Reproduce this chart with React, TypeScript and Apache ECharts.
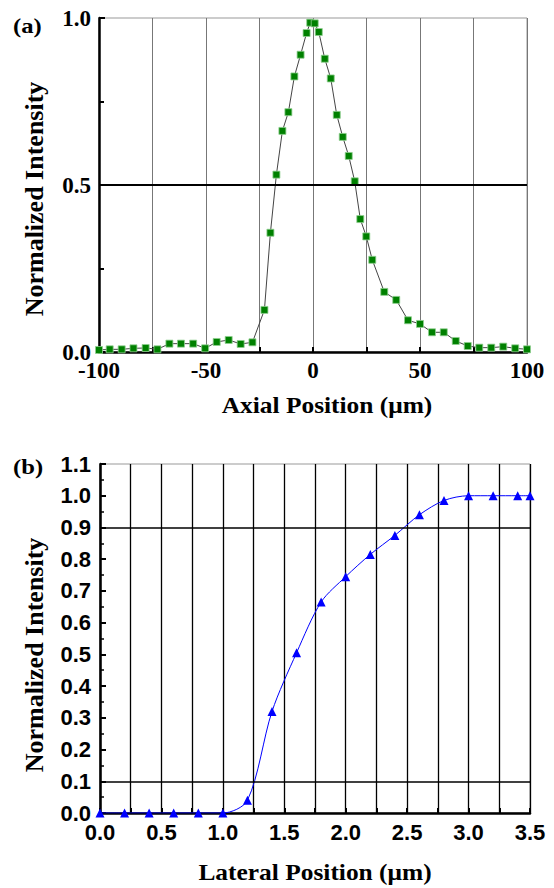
import React, { useEffect, useRef } from "react";
import * as echarts from "echarts";

const axialX = [-100, -95, -89.4, -83.9, -78.2, -72.7, -67.1, -61.7, -56, -50.4, -45, -39.4, -33.8, -28.3, -22.7, -19.9, -17.1, -14.3, -11.5, -8.7, -5.8, -3, -1.3, 0.8, 2.7, 5.5, 8.3, 11.1, 13.9, 16.7, 19.5, 22.1, 24.9, 27.7, 33.3, 38.9, 44.4, 50, 55.6, 61.1, 66.7, 72.3, 77.7, 83.3, 88.9, 94.5, 100];
const axialIntensity = [0.006, 0.008, 0.008, 0.011, 0.012, 0.008, 0.025, 0.025, 0.025, 0.011, 0.03, 0.036, 0.024, 0.029, 0.126, 0.357, 0.531, 0.662, 0.718, 0.825, 0.89, 0.955, 0.986, 0.984, 0.958, 0.878, 0.819, 0.71, 0.644, 0.587, 0.511, 0.398, 0.346, 0.276, 0.18, 0.156, 0.095, 0.084, 0.059, 0.059, 0.033, 0.018, 0.013, 0.013, 0.016, 0.011, 0.008];

const lateralX = [0, 0.2, 0.4, 0.6, 0.8, 1.0, 1.2, 1.4, 1.6, 1.8, 2.0, 2.2, 2.4, 2.6, 2.8, 3.0, 3.2, 3.4, 3.5];
const lateralIntensity = [0, 0, 0, 0, 0, 0, 0.04, 0.32, 0.505, 0.665, 0.745, 0.815, 0.875, 0.94, 0.985, 1.0, 1.0, 1.0, 1.0];

const axialRefLines = [0.5];
const lateralRefLines = [0.1, 0.9];

const SERIF = "'Liberation Serif', 'Times New Roman', serif";
const SANS = "'Liberation Sans', Arial, sans-serif";

export default function App() {
  const ref = useRef<HTMLDivElement>(null);
  useEffect(() => {
    if (!ref.current) return;
    const chart = echarts.init(ref.current, undefined, { renderer: "svg" });
    const axisLineStyle = { show: true, onZero: false, lineStyle: { color: "#000", width: 2.5 } };
    chart.setOption({
      animation: false,
      backgroundColor: "#fff",
      grid: [
        { left: 99, top: 18, width: 428, height: 334, show: true, borderColor: "#999", borderWidth: 1 },
        { left: 100, top: 464, width: 430, height: 349, show: true, borderColor: "#999", borderWidth: 1 },
      ],
      xAxis: [
        {
          gridIndex: 0, type: "value", min: -100, max: 100, interval: 25,
          axisLine: axisLineStyle,
          axisTick: { show: true, inside: true, length: 5, lineStyle: { color: "#000", width: 2 } },
          axisLabel: {
            margin: 10, lineHeight: 16, fontFamily: SERIF, fontWeight: "bold", fontSize: 23, color: "#000",
            formatter: (v: number) => (v % 50 === 0 ? String(v) : ""),
          },
          splitLine: { show: true, lineStyle: { color: "#777", width: 1 } },
        },
        {
          gridIndex: 1, type: "value", min: 0, max: 3.5, interval: 0.25,
          axisLine: axisLineStyle,
          axisTick: { show: true, inside: true, length: 5, lineStyle: { color: "#000", width: 2 } },
          axisLabel: {
            margin: 11, lineHeight: 16, fontFamily: SANS, fontWeight: "bold", fontSize: 22, color: "#000",
            formatter: (v: number) => (Math.abs(v * 2 - Math.round(v * 2)) < 1e-6 ? v.toFixed(1) : ""),
          },
          splitLine: { show: true, lineStyle: { color: "#000", width: 1.3 } },
        },
      ],
      yAxis: [
        {
          gridIndex: 0, type: "value", min: 0, max: 1, interval: 0.5,
          axisLine: axisLineStyle,
          axisTick: { show: true, inside: true, length: 6, lineStyle: { color: "#000", width: 2 } },
          minorTick: { show: true, splitNumber: 2, length: 5, lineStyle: { color: "#000", width: 2 } },
          axisLabel: {
            margin: 8, lineHeight: 16, fontFamily: SERIF, fontWeight: "bold", fontSize: 23, color: "#000",
            formatter: (v: number) => v.toFixed(1),
          },
          splitLine: { show: false },
        },
        {
          gridIndex: 1, type: "value", min: 0, max: 1.1, interval: 0.1,
          axisLine: axisLineStyle,
          axisTick: { show: true, inside: true, length: 6, lineStyle: { color: "#000", width: 2 } },
          minorTick: { show: true, splitNumber: 2, length: 4, lineStyle: { color: "#000", width: 1.5 } },
          axisLabel: {
            margin: 9, lineHeight: 16, fontFamily: SANS, fontWeight: "bold", fontSize: 22, color: "#000",
            formatter: (v: number) => v.toFixed(1),
          },
          splitLine: { show: false },
        },
      ],
      series: [
        {
          type: "line", xAxisIndex: 0, yAxisIndex: 0,
          data: axialX.map((x, i) => [x, axialIntensity[i]]),
          symbol: "rect", symbolSize: 7,
          itemStyle: { color: "#008000", borderColor: "#8fcf8f", borderWidth: 0.8 },
          lineStyle: { color: "#444", width: 1 },
          markLine: {
            silent: true, symbol: "none", label: { show: false },
            lineStyle: { color: "#000", width: 2, type: "solid" },
            data: axialRefLines.map((v) => ({ yAxis: v })),
          },
        },
        {
          type: "line", xAxisIndex: 1, yAxisIndex: 1,
          data: lateralX.map((x, i) => [x, lateralIntensity[i]]),
          symbol: "triangle", symbolSize: 9, smooth: 0.3,
          itemStyle: { color: "#0000ff" },
          lineStyle: { color: "#0000ff", width: 1 },
          markLine: {
            silent: true, symbol: "none", label: { show: false },
            lineStyle: { color: "#000", width: 1.5, type: "solid" },
            data: lateralRefLines.map((v) => ({ yAxis: v })),
          },
        },
      ],
      graphic: [
        {
          type: "text", x: 13, y: 25, scaleX: 1.12,
          style: { text: "(a)", font: `bold 22px ${SERIF}`, fill: "#000", align: "left", verticalAlign: "middle" },
        },
        {
          type: "text", x: 13, y: 466, scaleX: 1.12,
          style: { text: "(b)", font: `bold 22px ${SERIF}`, fill: "#000", align: "left", verticalAlign: "middle" },
        },
        {
          type: "text", x: 327, y: 406, scaleX: 1.13,
          style: { text: "Axial Position (\u03bcm)", font: `bold 22.5px ${SERIF}`, fill: "#000", align: "center", verticalAlign: "middle" },
        },
        {
          type: "text", x: 315, y: 873, scaleX: 1.13,
          style: { text: "Lateral Position (\u03bcm)", font: `bold 22.5px ${SERIF}`, fill: "#000", align: "center", verticalAlign: "middle" },
        },
        {
          type: "text", x: 34, y: 199, rotation: Math.PI / 2,
          style: { text: "Normalized Intensity", font: `bold 26px ${SERIF}`, fill: "#000", align: "center", verticalAlign: "middle" },
        },
        {
          type: "text", x: 34, y: 655, rotation: Math.PI / 2,
          style: { text: "Normalized Intensity", font: `bold 26px ${SERIF}`, fill: "#000", align: "center", verticalAlign: "middle" },
        },
      ],
    });
    return () => chart.dispose();
  }, []);
  return <div ref={ref} style={{ position: "absolute", left: 0, top: 0, width: 554, height: 888 }} />;
}
